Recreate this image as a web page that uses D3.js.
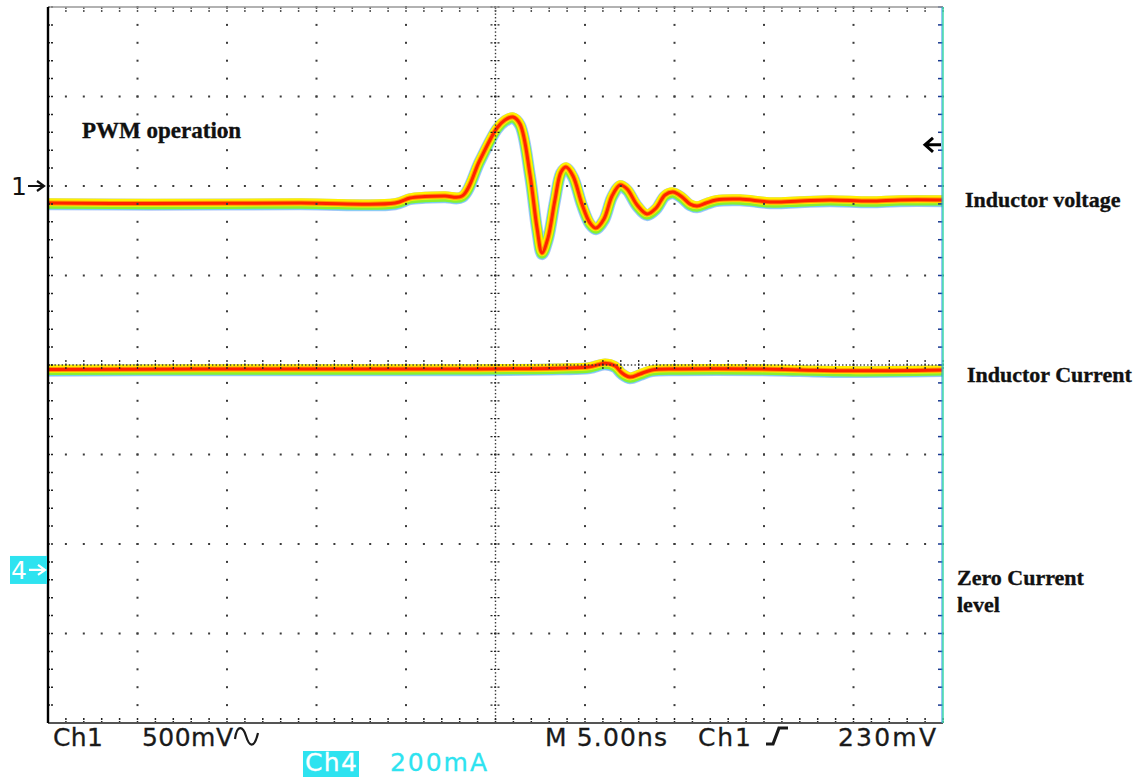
<!DOCTYPE html>
<html><head><meta charset="utf-8">
<script src="https://cdn.jsdelivr.net/npm/d3@7"></script>
<style>html,body{margin:0;padding:0;background:#fff}svg{display:block}</style>
</head><body>
<script>
// ---- data ----
// Channel 1: inductor voltage, mV relative to ch1 ground, vs time in ns (5 ns/div)
const voltTimeNs = [0, 5.7, 14.08, 19.39, 20.22, 21.06, 22.18, 23.13, 24.13, 25.08, 25.53, 25.98, 26.37, 26.93, 27.32, 27.6, 27.93, 28.32, 28.66, 28.94, 29.33, 29.83, 30.28, 30.61, 31.06, 31.51, 31.96, 32.35, 32.91, 33.46, 33.97, 34.47, 34.92, 35.42, 35.87, 36.26, 36.76, 37.32, 38.66, 40.34, 42.01, 43.69, 45.92, 47.6, 50];
const voltMv     = [-95, -98, -95, -95, -67, -59, -56, -56, 145, 324, 369, 385, 346, 61, -235, -374, -291, -78, 78, 106, 56, -101, -207, -235, -184, -56, 6, -17, -106, -156, -123, -50, -34, -61, -101, -112, -95, -78, -73, -89, -84, -78, -84, -78, -78];
// Channel 4: inductor current, mA relative to ch4 ground
const currTimeNs = [0, 8.49, 19.66, 28.6, 30.28, 31.12, 31.68, 32.07, 32.51, 33.07, 33.74, 35.31, 39.78, 42.01, 44.8, 50];
const currMa     = [448, 449, 449, 451, 454, 462, 456, 440, 431, 438, 447, 449, 449, 447, 445, 447];
// scope settings
const ch1Div = 2, ch1Scale = 500;      // ch1 ground marker at +2 div, 500 mV/div
const ch4Div = -2.29, ch4Scale = 200;  // ch4 ground marker, 200 mA/div
const triggerMv = 230;
const timeDivs = d3.range(0, 51, 5);
const timeMinor = d3.range(0, 50.001, 1);
const vertDivs = d3.range(-4, 4.001, 1);
const vertMinor = d3.range(-4, 4.001, 0.2);
const readout = [
  {text: "Ch1", x: 53, len: 50}, {text: "500mV", x: 142, len: 91},
  {text: "M 5.00ns", x: 545, len: 122}, {text: "Ch1", x: 698, len: 53}, {text: "230mV", x: 838, len: 98}
];
const notes = [
  {lines: ["PWM operation"], x: 82, y: 138, size: 23},
  {lines: ["Inductor voltage"], x: 965, y: 207, size: 22},
  {lines: ["Inductor Current"], x: 967, y: 382, size: 22},
  {lines: ["Zero Current", "level"], x: 957, y: 585, size: 22}
];

// ---- drawing ----
const W = 1140, H = 777;
const svg = d3.select("body").append("svg").attr("width", W).attr("height", H);
const x = d3.scaleLinear().domain([0, 50]).range([48, 943]);
const yDiv = d3.scaleLinear().domain([-4, 4]).range([723, 7]);
const yV = mv => yDiv(ch1Div + mv / ch1Scale);
const yI = ma => yDiv(ch4Div + ma / ch4Scale);

// traces (persistence-style colour bands)
const bands = [
  {c: "#3a70f0", w: 12, dy: 1.2, o: 0.4},
  {c: "#2fe0e8", w: 10.5, dy: 1.2, o: 0.6},
  {c: "#8cef2c", w: 9.5, dy: 0.9, o: 1},
  {c: "#fff000", w: 8, dy: -0.7, o: 1},
  {c: "#ff9a00", w: 5, dy: 0, o: 1},
  {c: "#ff2200", w: 3, dy: 0, o: 1}
];
function drawTrace(ts, vs, yf) {
  const pts = ts.map((t, i) => [t, vs[i]]);
  const line = d3.line().x(d => x(d[0])).y(d => yf(d[1])).curve(d3.curveCatmullRom.alpha(0.5));
  const g = svg.append("g");
  bands.forEach(b => {
    g.append("path").attr("d", line(pts)).attr("fill", "none")
      .attr("stroke", b.c).attr("stroke-width", b.w).attr("stroke-opacity", b.o)
      .attr("stroke-linejoin", "round").attr("transform", `translate(0,${b.dy})`);
  });
}
drawTrace(voltTimeNs, voltMv, yV);
drawTrace(currTimeNs, currMa, yI);

// graticule
const grid = svg.append("g");
const dotC = "#3a3a3a";
timeDivs.slice(1, -1).forEach(t => {
  if (t === 25) return;
  vertMinor.forEach(v => grid.append("rect").attr("x", x(t) - 1).attr("y", yDiv(v) - 1)
    .attr("width", 2).attr("height", 2).attr("fill", dotC));
});
vertDivs.slice(1, -1).forEach(v => {
  if (v === 0) return;
  timeMinor.forEach(t => grid.append("rect").attr("x", x(t) - 1).attr("y", yDiv(v) - 1)
    .attr("width", 2).attr("height", 2).attr("fill", dotC));
});
// centre crosshair: dense dots + minor ticks
d3.range(-4, 4.001, 0.04).forEach(v => grid.append("rect").attr("x", x(25) - 0.7).attr("y", yDiv(v) - 0.7)
  .attr("width", 1.4).attr("height", 1.4).attr("fill", "#333"));
d3.range(0, 50.001, 0.2).forEach(t => grid.append("rect").attr("x", x(t) - 0.7).attr("y", yDiv(0) - 0.7)
  .attr("width", 1.4).attr("height", 1.4).attr("fill", "#333"));
vertMinor.forEach(v => grid.append("line").attr("x1", x(25) - 5).attr("x2", x(25) + 5)
  .attr("y1", yDiv(v)).attr("y2", yDiv(v)).attr("stroke", "#222").attr("stroke-width", 1.3).attr("stroke-dasharray", "2,1.5"));
timeMinor.forEach(t => grid.append("line").attr("x1", x(t)).attr("x2", x(t))
  .attr("y1", yDiv(0) - 5).attr("y2", yDiv(0) + 5).attr("stroke", "#222").attr("stroke-width", 1.3).attr("stroke-dasharray", "2,1.5"));

// frame edge ticks
vertMinor.forEach(v => {
  grid.append("line").attr("x1", x(0)).attr("x2", x(0) + 5).attr("y1", yDiv(v)).attr("y2", yDiv(v))
    .attr("stroke", "#222").attr("stroke-width", 1.5).attr("stroke-dasharray", "2,1");
  grid.append("line").attr("x1", x(50) - 5).attr("x2", x(50)).attr("y1", yDiv(v)).attr("y2", yDiv(v))
    .attr("stroke", "#1a3a90").attr("stroke-width", 1.5);
});
timeMinor.forEach(t => {
  grid.append("line").attr("x1", x(t)).attr("x2", x(t)).attr("y1", yDiv(4)).attr("y2", yDiv(4) + 5)
    .attr("stroke", "#555").attr("stroke-width", 1.5).attr("stroke-dasharray", "2,1");
  grid.append("line").attr("x1", x(t)).attr("x2", x(t)).attr("y1", yDiv(-4) - 5).attr("y2", yDiv(-4))
    .attr("stroke", "#222").attr("stroke-width", 1.5).attr("stroke-dasharray", "2,1");
});
// frame borders
grid.append("line").attr("x1", x(0)).attr("x2", x(50)).attr("y1", yDiv(4)).attr("y2", yDiv(4))
  .attr("stroke", "#999").attr("stroke-width", 1.5);
grid.append("line").attr("x1", x(0)).attr("x2", x(50)).attr("y1", yDiv(-4)).attr("y2", yDiv(-4))
  .attr("stroke", "#555").attr("stroke-width", 2);
grid.append("line").attr("x1", x(0)).attr("x2", x(0)).attr("y1", yDiv(4)).attr("y2", yDiv(-4))
  .attr("stroke", "#000").attr("stroke-width", 2.4);
grid.append("line").attr("x1", x(50) - 1).attr("x2", x(50) - 1).attr("y1", yDiv(4)).attr("y2", yDiv(-4))
  .attr("stroke", "#2f8cf0").attr("stroke-width", 1);
grid.append("line").attr("x1", x(50)).attr("x2", x(50)).attr("y1", yDiv(4)).attr("y2", yDiv(-4))
  .attr("stroke", "#3fd8a8").attr("stroke-width", 1.5);

// channel markers
const mk = svg.append("g");
const y1 = yDiv(ch1Div);
mk.append("text").attr("x", 11).attr("y", y1 + 9).text("1")
  .attr("font-family", "DejaVu Sans").attr("font-size", 25).attr("fill", "#111");
mk.append("path").attr("d", `M28,${y1}H42M37,${y1 - 5}L44,${y1}L37,${y1 + 5}`)
  .attr("stroke", "#111").attr("stroke-width", 2.2).attr("fill", "none");
const y4 = yDiv(ch4Div);
mk.append("rect").attr("x", 10).attr("y", y4 - 14).attr("width", 37).attr("height", 28).attr("fill", "#2ee3f0");
mk.append("text").attr("x", 11).attr("y", y4 + 9).text("4")
  .attr("font-family", "DejaVu Sans").attr("font-size", 25).attr("fill", "#fff");
mk.append("path").attr("d", `M29,${y4}H43M38,${y4 - 5}L45,${y4}L38,${y4 + 5}`)
  .attr("stroke", "#fff").attr("stroke-width", 2.2).attr("fill", "none");
// trigger level arrow
const yt = yV(triggerMv);
mk.append("path").attr("d", `M926,${yt}H941M933,${yt - 7}L925,${yt}L933,${yt + 7}`)
  .attr("stroke", "#000").attr("stroke-width", 3).attr("fill", "none");

// annotations (serif bold)
notes.forEach(n => {
  const t = svg.append("text").attr("x", n.x).attr("y", n.y)
    .attr("font-family", "Liberation Serif, serif").attr("font-weight", "bold")
    .attr("font-size", n.size).attr("fill", "#111").attr("stroke", "#111").attr("stroke-width", 0.35);
  n.lines.forEach((l, i) => t.append("tspan").attr("x", n.x).attr("dy", i ? 27 : 0).text(l));
});

// bottom readout
const ro = svg.append("g").attr("font-family", "DejaVu Sans").attr("font-size", 25)
  .attr("fill", "#1a1a1a").attr("stroke", "#1a1a1a").attr("stroke-width", 0.3);
readout.forEach(r => ro.append("text").attr("x", r.x).attr("y", 746).text(r.text)
  .attr("textLength", r.len).attr("lengthAdjust", "spacing"));
// coupling (AC) symbol
ro.append("path").attr("d", "M235,739 C237,724 243,726 246,736 S254,750 258,733")
  .attr("stroke", "#1a1a1a").attr("stroke-width", 2.2).attr("fill", "none");
// rising edge trigger symbol
ro.append("path").attr("d", "M766,744H773L779,728H788").attr("stroke", "#1a1a1a").attr("stroke-width", 3.2).attr("fill", "none");
// ch4 readout
svg.append("rect").attr("x", 303).attr("y", 751).attr("width", 56).attr("height", 26).attr("fill", "#2ee3f0");
svg.append("text").attr("x", 305).attr("y", 771).text("Ch4").attr("font-family", "DejaVu Sans").attr("font-size", 25)
  .attr("textLength", 52).attr("lengthAdjust", "spacing").attr("fill", "#fff").attr("stroke", "#fff").attr("stroke-width", 0.3);
svg.append("text").attr("x", 390).attr("y", 771).text("200mA").attr("font-family", "DejaVu Sans").attr("font-size", 25)
  .attr("textLength", 97).attr("lengthAdjust", "spacing").attr("fill", "#2ee3f0").attr("stroke", "#2ee3f0").attr("stroke-width", 0.3);
</script>
</body></html>
